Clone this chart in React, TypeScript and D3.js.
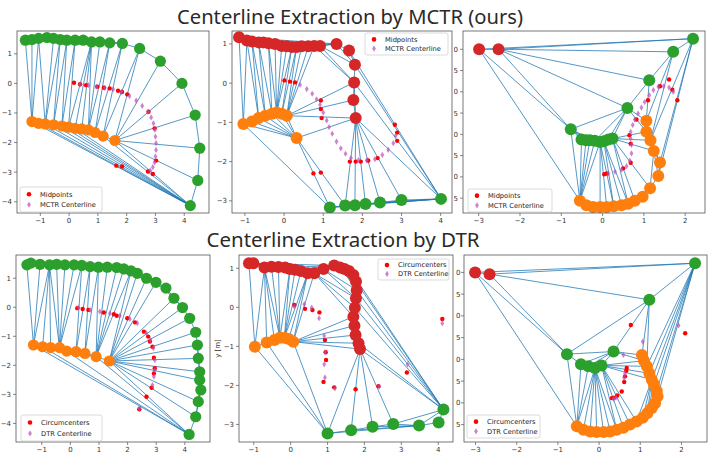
import React from "react";
import * as d3 from "d3";

type Pt = [number, number];

// ---- MCTR, case 1 ----
const P1_GREEN: Pt[] = [
  [-1.52, 1.46], [-1.29, 1.48], [-1.06, 1.52], [-0.77, 1.55], [-0.54, 1.52], [-0.31, 1.48],
  [-0.08, 1.46], [0.21, 1.46], [0.49, 1.46], [0.78, 1.4], [1.07, 1.4], [1.41, 1.37],
  [1.85, 1.35], [2.45, 1.18], [3.17, 0.75], [3.92, 0.0], [4.38, -1.07], [4.54, -2.19],
  [4.47, -3.28], [4.21, -4.13],
];
const P1_ORANGE: Pt[] = [
  [-1.29, -1.29], [-1.06, -1.35], [-0.83, -1.37], [-0.54, -1.4], [-0.25, -1.44], [-0.02, -1.48],
  [0.21, -1.52], [0.44, -1.54], [0.67, -1.57], [0.9, -1.66], [1.18, -1.78], [1.59, -1.93],
];
const P1_MIDS: Pt[] = [
  [0.17, 0.02], [0.38, -0.03], [0.59, -0.06], [0.98, -0.11], [1.21, -0.15], [1.41, -0.17],
  [1.7, -0.25], [1.84, -0.29], [2.02, -0.37], [2.76, -0.96], [2.97, -1.52], [3.02, -2.61],
  [2.74, -2.98], [2.91, -3.06], [1.64, -2.78], [1.84, -2.81],
];
const P1_LINE: Pt[] = [
  [0.38, -0.03], [0.67, -0.06], [0.95, -0.11], [1.24, -0.15], [1.53, -0.2], [1.82, -0.29],
  [2.1, -0.43], [2.33, -0.58], [2.54, -0.76], [2.74, -0.96], [2.85, -1.15], [2.93, -1.35],
  [2.98, -1.57], [3.0, -1.8], [3.02, -2.02], [3.02, -2.25], [3.0, -2.47], [2.97, -2.67],
  [2.91, -2.83], [2.82, -2.94],
];

// ---- MCTR, case 2 ----
const P2_RED: Pt[] = [
  [-1.15, 1.17], [-0.95, 1.09], [-0.82, 1.06], [-0.65, 1.04], [-0.53, 1.04], [-0.4, 1.02],
  [-0.23, 1.0], [-0.06, 0.95], [0.07, 0.94], [0.2, 0.92], [0.32, 0.92], [0.45, 0.94],
  [0.62, 0.94], [0.77, 0.95], [0.92, 0.95], [1.34, 1.0], [1.66, 0.83], [1.81, 0.47],
  [1.79, 0.02], [1.77, -0.43], [1.83, -0.89],
];
const P2_ORANGE: Pt[] = [
  [-1.04, -1.04], [-0.82, -0.98], [-0.65, -0.89], [-0.48, -0.83], [-0.31, -0.78],
  [-0.19, -0.75], [-0.06, -0.78], [0.07, -0.83], [0.32, -1.4],
];
const P2_GREEN: Pt[] = [
  [1.17, -3.17], [1.56, -3.12], [1.81, -3.11], [2.08, -3.08], [2.45, -3.04], [3.0, -2.98], [4.01, -2.95],
];
const P2_MIDS: Pt[] = [
  [0.01, 0.07], [0.15, 0.04], [0.28, 0.02], [0.94, -0.44], [0.94, -0.66], [0.96, -0.89],
  [0.75, -2.3], [0.94, -2.28], [1.68, -2.0], [1.83, -2.0], [1.96, -2.0], [2.15, -1.97],
  [2.39, -1.91], [2.83, -1.06], [2.89, -1.26], [2.89, -1.47],
];
const P2_LINE: Pt[] = [
  [0.41, -0.04], [0.58, -0.15], [0.72, -0.27], [0.83, -0.41], [0.92, -0.55], [1.0, -0.75],
  [1.09, -0.95], [1.15, -1.12], [1.23, -1.29], [1.34, -1.49], [1.45, -1.66], [1.57, -1.8],
  [1.71, -1.91], [1.9, -1.96], [2.11, -1.97], [2.32, -1.94], [2.51, -1.83], [2.66, -1.7],
  [2.79, -1.53], [2.85, -1.34],
];

// ---- MCTR, case 3 ----
const P3_RED: Pt[] = [[-2.99, 1.0], [-2.52, 1.0]];
const P3_GREEN: Pt[] = [
  [2.19, 1.25], [1.71, 0.94], [1.13, 0.27], [0.6, -0.38], [-0.77, -0.88], [-0.51, -1.12],
  [-0.4, -1.14], [-0.31, -1.14], [-0.19, -1.15], [-0.06, -1.18], [0.03, -1.16], [0.14, -1.12], [0.24, -1.1],
];
const P3_ORANGE: Pt[] = [
  [1.06, -0.68], [1.06, -0.94], [1.16, -1.14], [1.24, -1.39], [1.39, -1.66], [1.35, -1.98],
  [1.15, -2.27], [0.97, -2.47], [0.78, -2.56], [0.62, -2.63], [0.46, -2.67], [0.27, -2.69],
  [0.1, -2.71], [-0.06, -2.71], [-0.23, -2.71], [-0.39, -2.67], [-0.55, -2.56],
];
const P3_MIDS: Pt[] = [
  [1.61, 0.29], [1.39, 0.13], [1.69, 0.05], [1.81, -0.2], [1.1, -0.2], [0.82, -0.65],
  [0.65, -1.02], [0.68, -1.22], [0.68, -1.67], [0.5, -1.8], [0.1, -1.92], [0.04, -1.94],
];
const P3_LINE: Pt[] = [
  [0.14, -1.92], [0.3, -1.88], [0.46, -1.83], [0.58, -1.75], [0.66, -1.62], [0.7, -1.45],
  [0.7, -1.25], [0.68, -1.1], [0.68, -0.94], [0.73, -0.78], [0.78, -0.65], [0.86, -0.51],
  [0.94, -0.37], [1.02, -0.24], [1.13, -0.08], [1.23, 0.04], [1.35, 0.12], [1.48, 0.13],
  [1.61, 0.1], [1.71, 0.0],
];

// ---- DTR, case 1 ----
const P4_GREEN: Pt[] = [
  [-1.52, 1.46], [-1.38, 1.52], [-1.06, 1.48], [-0.73, 1.46], [-0.48, 1.48], [-0.19, 1.46],
  [0.13, 1.46], [0.4, 1.44], [0.69, 1.4], [0.98, 1.38], [1.29, 1.38], [1.62, 1.37],
  [1.87, 1.32], [2.12, 1.25], [2.34, 1.17], [2.66, 1.0], [2.99, 0.86], [3.34, 0.66],
  [3.62, 0.31], [3.92, -0.01], [4.17, -0.38], [4.38, -0.86], [4.44, -1.3], [4.47, -1.76],
  [4.52, -2.22], [4.52, -2.51], [4.56, -2.85], [4.47, -3.25], [4.38, -3.77], [4.15, -4.38],
];
const P4_ORANGE: Pt[] = [
  [-1.29, -1.3], [-0.97, -1.36], [-0.69, -1.39], [-0.38, -1.39], [-0.13, -1.51],
  [0.2, -1.53], [0.51, -1.59], [0.9, -1.7], [1.36, -1.85],
];
const P4_MIDS: Pt[] = [
  [0.24, -0.03], [0.43, -0.06], [0.63, -0.09], [1.17, -0.18], [1.52, -0.24], [1.62, -0.29],
  [1.99, -0.38], [2.26, -0.52], [2.57, -0.84], [2.72, -1.01], [2.78, -1.18], [2.87, -1.36],
  [2.92, -1.74], [2.95, -2.1], [2.92, -2.28], [2.84, -2.77], [2.66, -3.08], [2.41, -3.51],
];
const P4_LINE: Pt[] = [
  [0.28, -0.01], [0.69, -0.09], [1.03, -0.15], [1.38, -0.21], [1.73, -0.29], [2.08, -0.4],
  [2.34, -0.55], [2.66, -0.9], [2.8, -1.13], [2.9, -1.41], [2.95, -1.82], [2.95, -2.16],
  [2.92, -2.39], [2.87, -2.68], [2.41, -3.48],
];

// ---- DTR, case 2 ----
const P5_RED: Pt[] = [
  [-1.13, 1.13], [-1.01, 1.13], [-0.71, 1.02], [-0.52, 1.04], [-0.33, 1.03], [-0.15, 1.02],
  [-0.02, 0.98], [0.12, 0.96], [0.28, 0.93], [0.46, 0.87], [0.64, 0.87], [0.89, 0.98],
  [1.18, 1.07], [1.34, 1.02], [1.46, 0.98], [1.58, 0.93], [1.7, 0.83], [1.77, 0.66],
  [1.79, 0.44], [1.77, 0.23], [1.74, -0.01], [1.7, -0.24], [1.73, -0.47], [1.76, -0.71],
  [1.84, -0.92], [1.88, -1.07],
];
const P5_ORANGE: Pt[] = [
  [-0.97, -1.01], [-0.65, -0.9], [-0.44, -0.84], [-0.29, -0.78], [-0.17, -0.78], [-0.05, -0.81], [0.07, -0.88],
];
const P5_GREEN: Pt[] = [
  [1.0, -3.23], [1.64, -3.15], [2.22, -3.06], [2.78, -2.99], [3.48, -3.03], [4.01, -2.95], [4.14, -2.62],
];
const P5_MIDS: Pt[] = [
  [0.1, 0.06], [0.39, -0.04], [0.59, -0.07], [0.78, -0.13], [0.93, -0.84], [0.95, -1.15],
  [0.96, -1.35], [0.89, -1.91], [1.18, -2.05], [1.76, -2.1], [2.38, -2.02], [3.15, -1.67], [4.11, -0.3],
];
const P5_LINE: Pt[] = [
  [0.1, 0.02], [0.37, 0.08], [0.57, -0.01], [0.77, -0.28], [0.91, -0.73], [0.93, -1.15],
  [0.91, -1.46], [0.93, -1.8], [1.2, -2.08], [2.4, -2.03], [3.17, -1.46], [4.11, -0.41],
];

// ---- DTR, case 3 ----
const P6_RED: Pt[] = [[-3.01, 1.0], [-2.66, 0.96]];
const P6_GREEN: Pt[] = [
  [2.33, 1.21], [1.22, 0.37], [0.35, -0.82], [-0.78, -0.88], [-0.44, -1.11], [-0.26, -1.16], [-0.1, -1.2], [0.06, -1.14],
];
const P6_ORANGE: Pt[] = [
  [1.04, -0.9], [1.09, -1.03], [1.16, -1.16], [1.22, -1.32], [1.28, -1.47], [1.33, -1.58],
  [1.4, -1.72], [1.42, -1.85], [1.36, -2.01], [1.28, -2.12], [1.17, -2.24], [1.06, -2.34],
  [0.91, -2.43], [0.75, -2.5], [0.59, -2.57], [0.43, -2.62], [0.27, -2.66], [0.11, -2.67],
  [-0.06, -2.67], [-0.22, -2.66], [-0.38, -2.62], [-0.54, -2.54],
];
const P6_MIDS: Pt[] = [
  [0.77, -0.21], [2.09, -0.4], [0.67, -1.2], [0.66, -1.26], [0.63, -1.39], [0.61, -1.52],
  [0.55, -1.74], [0.44, -1.83], [0.36, -1.88], [0.31, -1.89],
];
const P6_LINE: Pt[] = [
  [1.93, -0.22], [1.06, -0.59], [0.59, -0.9], [0.63, -1.32], [0.61, -1.43], [0.41, -1.88], [0.35, -1.91],
];

const INT_TICKS_A = [-1, 0, 1, 2, 3, 4];
const INT_TICKS_B = [-3, -2, -1, 0, 1, 2];
const Y_TICKS_4 = [-4, -3, -2, -1, 0, 1];
const Y_TICKS_3 = [-3, -2, -1, 0, 1];
const Y_TICKS_HALF = [-2.5, -2, -1.5, -1, -0.5, 0, 0.5, 1];

const MCTR_LABELS = ["Midpoints", "MCTR Centerline"];
const DTR_LABELS = ["Circumcenters", "DTR Centerline"];

const C_GREEN = "#2ca02c";
const C_ORANGE = "#ff7f0e";
const C_RED = "#d62728";
const C_BLUE = "#1f77b4";
const C_MID = "#ff0000";
const C_LINE = "#b94fb9";
const FONT = "DejaVu Sans, sans-serif";

function delaunayEdges(points: Pt[]): [Pt, Pt][] {
  const del = d3.Delaunay.from(points);
  const { triangles, halfedges } = del;
  const out: [Pt, Pt][] = [];
  for (let e = 0; e < triangles.length; e++) {
    if (e > halfedges[e]) {
      const a = triangles[e];
      const b = triangles[e % 3 === 2 ? e - 2 : e + 1];
      out.push([points[a], points[b]]);
    }
  }
  return out;
}

const diamond = "M0,-3.1L1.9,0L0,3.1L-1.9,0Z";

function Panel(props: any) {
  const { id, box, xd, yd, xt, yt, yfmt, cones, mids, line, legend, labels, clipX, r, yLabel, ylx } = props;
  const [bx, by, bw, bh] = box;
  const x = d3.scaleLinear().domain(xd).range([bx, bx + bw]);
  const y = d3.scaleLinear().domain(yd).range([by + bh, by]);
  const all: Pt[] = cones.flatMap((c: any) => c.pts);
  const edges = delaunayEdges(all);
  const fx = d3.format("d");
  const fy = d3.format(yfmt || "d");
  const [lx, ly, lw, lh] = legend;
  const labelX = bx - (ylx ?? 5);
  return (
    <g>
      {clipX != null && (
        <clipPath id={"clip" + id}>
          <rect x={clipX} y={by - 10} width={bw + 40} height={bh + 20} />
        </clipPath>
      )}
      <clipPath id={"clip" + id + "b"}>
        <rect x={bx} y={by} width={bw} height={bh} />
      </clipPath>
      <g clipPath={`url(#clip${id}b)`}>
        {edges.map((e, i) => (
          <line key={i} x1={x(e[0][0])} y1={y(e[0][1])} x2={x(e[1][0])} y2={y(e[1][1])}
            stroke={C_BLUE} strokeWidth={0.9} strokeOpacity={0.85} />
        ))}
        {cones.map((c: any, j: number) =>
          c.pts.map((p: Pt, i: number) => (
            <circle key={j + "-" + i} cx={x(p[0])} cy={y(p[1])} r={r} fill={c.color} />
          ))
        )}
        {mids.map((p: Pt, i: number) => (
          <circle key={"m" + i} cx={x(p[0])} cy={y(p[1])} r={2.2} fill={C_MID} />
        ))}
        {line.map((p: Pt, i: number) => (
          <path key={"l" + i} d={diamond} transform={`translate(${x(p[0])},${y(p[1])})`} fill={C_LINE} fillOpacity={0.7} />
        ))}
      </g>
      <rect x={bx} y={by} width={bw} height={bh} fill="none" stroke="#555" strokeWidth={0.8} />
      {xt.map((t: number) => (
        <g key={"xt" + t}>
          <line x1={x(t)} x2={x(t)} y1={by + bh} y2={by + bh + 3} stroke="#555" strokeWidth={0.7} />
          <text x={x(t)} y={by + bh + 10} fontSize={7} fontFamily={FONT} textAnchor="middle" fill="#333">{fx(t)}</text>
        </g>
      ))}
      <g clipPath={clipX != null ? `url(#clip${id})` : undefined}>
        {yt.map((t: number) => (
          <g key={"yt" + t}>
            <line x1={bx - 3} x2={bx} y1={y(t)} y2={y(t)} stroke="#555" strokeWidth={0.7} />
            <text x={labelX} y={y(t) + 2.5} fontSize={7} fontFamily={FONT} textAnchor="end" fill="#333">{fy(t)}</text>
          </g>
        ))}
      </g>
      {yLabel && (
        <text transform={`translate(${bx - 19},${by + bh / 2}) rotate(-90)`} fontSize={7} fontFamily={FONT}
          textAnchor="middle" fill="#333">{yLabel}</text>
      )}
      <rect x={lx} y={ly} width={lw} height={lh} rx={2} fill="white" fillOpacity={0.85} stroke="#ccc" strokeWidth={0.7} />
      <circle cx={lx + 9} cy={ly + lh * 0.29} r={2.3} fill={C_MID} />
      <path d={diamond} transform={`translate(${lx + 9},${ly + lh * 0.71})`} fill={C_LINE} fillOpacity={0.7} />
      <text x={lx + 20} y={ly + lh * 0.29 + 2.4} fontSize={6.7} fontFamily={FONT} fill="#222">{labels[0]}</text>
      <text x={lx + 20} y={ly + lh * 0.71 + 2.4} fontSize={6.7} fontFamily={FONT} fill="#222">{labels[1]}</text>
    </g>
  );
}

export default function App() {
  return (
    <svg width={718} height={465} style={{ position: "absolute", left: 0, top: 0, background: "white" }}>
      <rect width={718} height={465} fill="white" />
      <text x={350} y={24} fontSize={20.5} fontFamily="Noto Sans, sans-serif" textAnchor="middle" fill="#2a2a2a"
        textLength={346} lengthAdjust="spacingAndGlyphs">Centerline Extraction by MCTR (ours)</text>
      <text x={343} y={247} fontSize={20.5} fontFamily="Noto Sans, sans-serif" textAnchor="middle" fill="#2a2a2a"
        textLength={273} lengthAdjust="spacingAndGlyphs">Centerline Extraction by DTR</text>

      <Panel id="3" box={[463, 31, 242, 182]} xd={[-3.38, 2.48]} yd={[-2.85, 1.43]} xt={INT_TICKS_B} yt={Y_TICKS_HALF}
        yfmt=".1f" clipX={454} r={6}
        cones={[{ pts: P3_RED, color: C_RED }, { pts: P3_GREEN, color: C_GREEN }, { pts: P3_ORANGE, color: C_ORANGE }]}
        mids={P3_MIDS} line={P3_LINE} legend={[468, 189, 84, 23]} labels={MCTR_LABELS} />
      <Panel id="1" box={[17, 31, 192, 182]} xd={[-1.81, 4.86]} yd={[-4.38, 1.77]} xt={INT_TICKS_A} yt={Y_TICKS_4} r={5.6}
        cones={[{ pts: P1_GREEN, color: C_GREEN }, { pts: P1_ORANGE, color: C_ORANGE }]}
        mids={P1_MIDS} line={P1_LINE} legend={[20, 187, 82, 25]} labels={MCTR_LABELS} />
      <Panel id="2" box={[232, 31, 220, 182]} xd={[-1.33, 4.29]} yd={[-3.31, 1.33]} xt={INT_TICKS_A} yt={Y_TICKS_3} r={6}
        cones={[{ pts: P2_RED, color: C_RED }, { pts: P2_ORANGE, color: C_ORANGE }, { pts: P2_GREEN, color: C_GREEN }]}
        mids={P2_MIDS} line={P2_LINE} legend={[365, 33, 83, 22]} labels={MCTR_LABELS} />

      <Panel id="6" box={[464, 255, 243, 187]} xd={[-3.28, 2.62]} yd={[-2.9, 1.4]} xt={INT_TICKS_B} yt={Y_TICKS_HALF}
        yfmt=".1f" clipX={456} r={6} ylx={3.5}
        cones={[{ pts: P6_RED, color: C_RED }, { pts: P6_GREEN, color: C_GREEN }, { pts: P6_ORANGE, color: C_ORANGE }]}
        mids={P6_MIDS} line={P6_LINE} legend={[467, 415, 73, 23]} labels={DTR_LABELS} />
      <Panel id="4" box={[16, 255, 194, 187]} xd={[-1.9, 4.88]} yd={[-4.64, 1.8]} xt={INT_TICKS_A} yt={Y_TICKS_4} r={5.6}
        cones={[{ pts: P4_GREEN, color: C_GREEN }, { pts: P4_ORANGE, color: C_ORANGE }]}
        mids={P4_MIDS} line={P4_LINE} legend={[21, 415, 81, 26]} labels={DTR_LABELS} />
      <Panel id="5" box={[239, 255, 214, 187]} xd={[-1.4, 4.4]} yd={[-3.45, 1.34]} xt={INT_TICKS_A} yt={Y_TICKS_3} r={6}
        yLabel="y [m]"
        cones={[{ pts: P5_RED, color: C_RED }, { pts: P5_ORANGE, color: C_ORANGE }, { pts: P5_GREEN, color: C_GREEN }]}
        mids={P5_MIDS} line={P5_LINE} legend={[378, 259, 71, 21]} labels={DTR_LABELS} />
    </svg>
  );
}
